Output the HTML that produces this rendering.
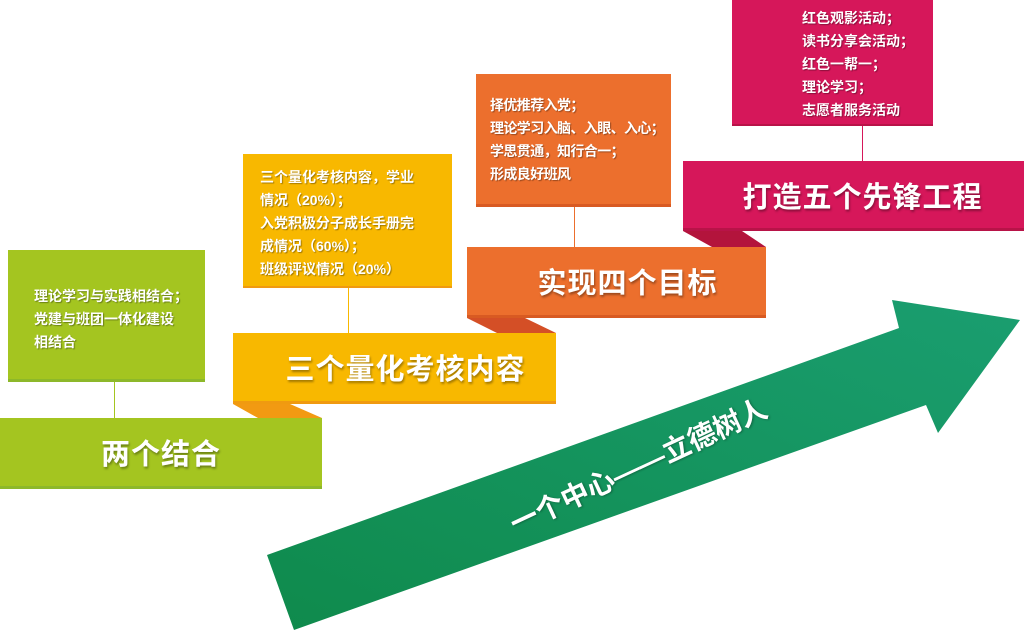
<!DOCTYPE html>
<html><head><meta charset="utf-8"><style>
html,body{margin:0;padding:0;background:#fff;}
body{width:1024px;height:632px;position:relative;overflow:hidden;font-family:"Liberation Sans","Noto Sans CJK SC",sans-serif;}
.b{position:absolute;color:#fff;font-weight:bold;}
.sm{font-size:14px;line-height:23px;text-shadow:1px 1px 1px rgba(0,0,0,.35);box-sizing:border-box;white-space:nowrap;}
.bn{font-size:29px;display:flex;align-items:center;justify-content:center;text-shadow:1px 2px 2px rgba(0,0,0,.35);letter-spacing:1px;}
.ln{position:absolute;width:1px;}
</style></head><body>
<svg width="1024" height="632" style="position:absolute;left:0;top:0">
 <defs><linearGradient id="ag" x1="0" y1="1" x2="1" y2="0"><stop offset="0" stop-color="#0f8a4c"/><stop offset="1" stop-color="#1a9e70"/></linearGradient></defs>
 <polygon points="233,404 290,404 322,418 258,418" fill="#f29a12"/>
 <polygon points="467,318 525,318 556,333 497,333" fill="#d44f26"/>
 <polygon points="683,231 742,231 766,247 712,247" fill="#b3143c"/>
 <polygon points="267,555 899,328 892,300 1020,320 938,433 926,405 294,630" fill="url(#ag)"/>
</svg>
<div class="ln" style="left:114px;top:382px;height:36px;background:#a4c520"></div>
<div class="ln" style="left:348px;top:288px;height:45px;background:#f8b800"></div>
<div class="ln" style="left:574px;top:207px;height:40px;background:#ec6f2d"></div>
<div class="ln" style="left:862px;top:126px;height:35px;background:#d6175a"></div>

<div class="b sm" style="left:8px;top:250px;width:197px;height:132px;background:#a4c520;border-bottom:3px solid #8db82a;padding:35px 0 0 26px">理论学习与实践相结合；<br>党建与班团一体化建设<br>相结合</div>
<div class="b bn" style="left:0;top:418px;width:322px;height:71px;background:#a4c520;border-bottom:3px solid #8db82a;box-sizing:border-box;">两个结合</div>

<div class="b sm" style="left:243px;top:154px;width:209px;height:134px;background:#f8b800;border-bottom:2px solid #f09a10;padding:12px 0 0 17px">三个量化考核内容，学业<br>情况（20%）；<br>入党积极分子成长手册完<br>成情况（60%）；<br>班级评议情况（20%）</div>
<div class="b bn" style="left:233px;top:333px;width:323px;height:71px;background:#f8b800;border-bottom:3px solid #f09a10;box-sizing:border-box;padding-left:22px">三个量化考核内容</div>

<div class="b sm" style="left:476px;top:74px;width:195px;height:133px;background:#ec6f2d;border-bottom:3px solid #d85a22;padding:20px 0 0 14px;letter-spacing:-0.6px">择优推荐入党；<br>理论学习入脑、入眼、入心；<br>学思贯通，知行合一；<br>形成良好班风</div>
<div class="b bn" style="left:467px;top:247px;width:299px;height:71px;background:#ec6f2d;border-bottom:3px solid #d85a22;box-sizing:border-box;padding-left:22px">实现四个目标</div>

<div class="b sm" style="left:732px;top:0;width:201px;height:126px;background:#d6175a;border-bottom:2px solid #b81348;padding:7px 0 0 70px">红色观影活动；<br>读书分享会活动；<br>红色一帮一；<br>理论学习；<br>志愿者服务活动</div>
<div class="b bn" style="left:683px;top:161px;width:341px;height:70px;background:#d6175a;border-bottom:3px solid #b81348;box-sizing:border-box;padding-left:18px">打造五个先锋工程</div>

<div class="b" style="left:638px;top:465px;font-size:28px;transform:translate(-50%,-50%) rotate(-25deg);white-space:nowrap;text-shadow:1px 1px 2px rgba(0,0,0,.3)">一个中心——立德树人</div>
</body></html>
